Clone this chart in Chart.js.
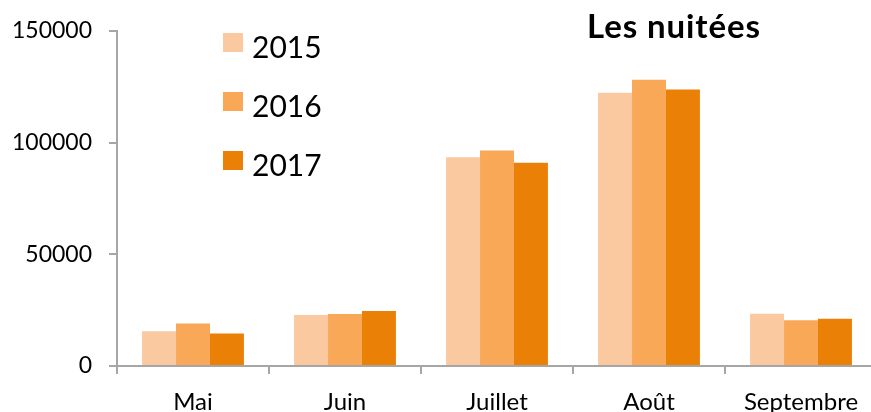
<!DOCTYPE html>
<html>
<head>
<meta charset="utf-8">
<script src="https://cdn.jsdelivr.net/npm/chart.js@4"></script>
<style>
html,body{margin:0;padding:0;background:#fff;overflow:hidden}
#wrap{position:relative;width:880px;height:412px}
#title{position:absolute;left:587px;top:5px;font:bold 33px Lato,sans-serif;letter-spacing:0.9px;color:#000}
#legend{position:absolute;left:223px;top:16px;font:30px Lato,sans-serif;color:#000}
.lg{display:flex;align-items:center;height:59px}
.lg i{display:inline-block;width:20px;height:19px;margin-right:9px;position:relative;top:-3px}
</style>
</head>
<body>
<div id="wrap">
  <canvas id="c" width="880" height="412"></canvas>
  <div id="title">Les nuitées</div>
  <div id="legend"></div>
</div>
<script>
// mois
const labels=['Mai','Juin','Juillet','Août','Septembre'];
// séries
const years=['2015','2016','2017'];
const v2015=[15500,22800,93400,122300,23400];
const v2016=[19000,23300,96400,128100,20500];
const v2017=[14500,24600,91000,123700,21100];
const colors=['#FAC9A0','#F8A857','#EB8007'];
const yTicks=[0,50000,100000,150000];

const series=[v2015,v2016,v2017];
const lgEl=document.getElementById('legend');
years.forEach((y,i)=>{
  lgEl.innerHTML+=`<div class="lg"><i style="background:${colors[i]}"></i><span>${y}</span></div>`;
});

const axisCol='#A6A6A6';
new Chart(document.getElementById('c'),{type:'bar',
  data:{labels:labels,
    datasets:years.map((y,i)=>({label:y,data:series[i],backgroundColor:colors[i],borderWidth:0,categoryPercentage:0.67,barPercentage:1}))},
  options:{responsive:false,animation:false,
    layout:{padding:{top:29,right:3,left:0,bottom:0}},
    plugins:{legend:{display:false},tooltip:{enabled:false}},
    scales:{
      x:{grid:{drawOnChartArea:false,offset:true,color:axisCol,lineWidth:2,tickLength:8},
         border:{color:axisCol,width:2},
         ticks:{font:{family:'Lato',size:24},color:'#000',padding:14,maxRotation:0},
         afterFit:s=>{s.height=46}},
      y:{min:0,max:150000,
         afterBuildTicks:s=>{s.ticks=yTicks.map(v=>({value:v}))},
         grid:{drawOnChartArea:false,color:axisCol,lineWidth:2,tickLength:8},
         border:{color:axisCol,width:2},
         ticks:{font:{family:'Lato',size:23},color:'#000',padding:17,callback:v=>String(v)},
         afterFit:s=>{s.width=117}}
    }}
});
</script>
</body>
</html>
